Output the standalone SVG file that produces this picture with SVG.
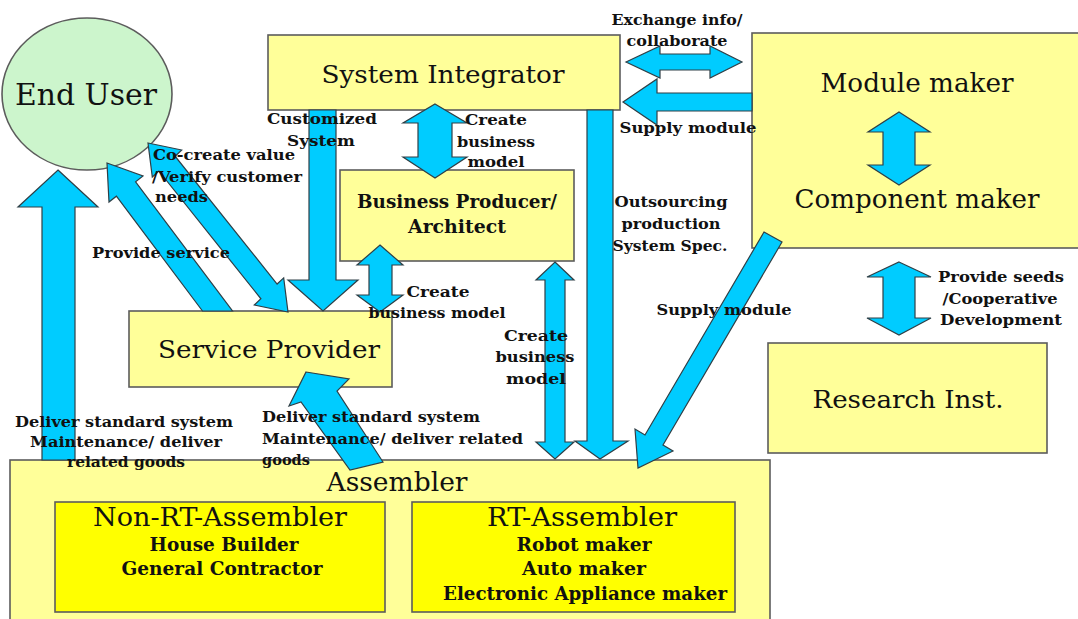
<svg xmlns="http://www.w3.org/2000/svg" width="1078" height="619" viewBox="0 0 1078 619">
<style>
.box{fill:#ffff99;stroke:#5c5c5c;stroke-width:1.6}
.ybox{fill:#ffff00;stroke:#5c5c5c;stroke-width:1.6}
.ell{fill:#ccf5cc;stroke:#5c5c5c;stroke-width:1.6}
.arr{fill:#00ccff;stroke:#2f3f46;stroke-width:1.2;stroke-linejoin:miter}
.t{font-family:"DejaVu Serif","Liberation Serif",serif;fill:#111;text-anchor:middle}
.tb{font-family:"DejaVu Serif","Liberation Serif",serif;font-weight:bold;fill:#111;text-anchor:middle}
.lb{font-family:"DejaVu Serif","Liberation Serif",serif;font-weight:bold;fill:#111;font-size:14px;text-anchor:middle}
.ls{text-anchor:start}
</style>
<rect width="1078" height="619" fill="#ffffff"/>

<g id="end-user">
<ellipse class="ell" cx="87" cy="94" rx="85" ry="76"/>
<text class="t" x="86" y="105" font-size="30" textLength="142" lengthAdjust="spacingAndGlyphs">End User</text>
</g>

<g id="system-integrator">
<rect class="box" x="268" y="35" width="352" height="75"/>
<text class="t" x="443" y="83" font-size="25" textLength="243" lengthAdjust="spacingAndGlyphs">System Integrator</text>
</g>

<g id="module-component-maker">
<rect class="box" x="752" y="33" width="340" height="215"/>
<text class="t" x="917" y="92" font-size="26" textLength="193" lengthAdjust="spacingAndGlyphs">Module maker</text>
<text class="t" x="917" y="208" font-size="26" textLength="245" lengthAdjust="spacingAndGlyphs">Component maker</text>
</g>

<g id="business-producer">
<rect class="box" x="340" y="170" width="234" height="91"/>
<text class="tb" x="457" y="208" font-size="18" textLength="200" lengthAdjust="spacingAndGlyphs">Business Producer/</text>
<text class="tb" x="457" y="233" font-size="18" textLength="98" lengthAdjust="spacingAndGlyphs">Architect</text>
</g>

<g id="service-provider">
<rect class="box" x="129" y="311" width="263" height="76"/>
<text class="t" x="269" y="358" font-size="25" textLength="222" lengthAdjust="spacingAndGlyphs">Service Provider</text>
</g>

<g id="research-inst">
<rect class="box" x="768" y="343" width="279" height="110"/>
<text class="t" x="908" y="408" font-size="25" textLength="191" lengthAdjust="spacingAndGlyphs">Research Inst.</text>
</g>

<g id="assembler">
<rect class="box" x="10" y="460" width="760" height="170"/>
<text class="t" x="397" y="491" font-size="26" textLength="141" lengthAdjust="spacingAndGlyphs">Assembler</text>
</g>

<g id="non-rt-assembler">
<rect class="ybox" x="55" y="502" width="330" height="110"/>
<text class="t" x="220" y="526" font-size="26" textLength="254" lengthAdjust="spacingAndGlyphs">Non-RT-Assembler</text>
<text class="tb" x="224" y="551" font-size="18" textLength="149" lengthAdjust="spacingAndGlyphs">House Builder</text>
<text class="tb" x="222" y="575" font-size="18" textLength="201" lengthAdjust="spacingAndGlyphs">General Contractor</text>
</g>

<g id="rt-assembler">
<rect class="ybox" x="412" y="502" width="323" height="110"/>
<text class="t" x="582" y="526" font-size="26" textLength="190" lengthAdjust="spacingAndGlyphs">RT-Assembler</text>
<text class="tb" x="584" y="551" font-size="18" textLength="135" lengthAdjust="spacingAndGlyphs">Robot maker</text>
<text class="tb" x="584" y="575" font-size="18" textLength="124" lengthAdjust="spacingAndGlyphs">Auto maker</text>
<text class="tb" x="585" y="600" font-size="18" textLength="284" lengthAdjust="spacingAndGlyphs">Electronic Appliance maker</text>
</g>

<g id="connectors">
<polygon class="arr" points="58,170 98,207 75,207 75,460 42,460 42,207 18,207"/>
<polygon class="arr" points="309,110 336,110 336,280 358,280 323,311 288,280 309,280"/>
<polygon class="arr" points="435,104 467,123 452,123 452,157 467,157 435,178 403,157 418,157 418,123 403,123"/>
<polygon class="arr" points="380,245 403,265 392,265 392,295 403,295 380,312 357,295 369,295 369,265 357,265"/>
<polygon class="arr" points="555,262 574,280 565,280 565,442 574,442 555,459 536,442 545,442 545,280 536,280"/>
<polygon class="arr" points="587,110 613,110 613,441 628,441 600,459 575,441 587,441"/>
<polygon class="arr" points="764,232 782,242 663,445 673,451 638,468 635,429 645,435"/>
<polygon class="arr" points="626,62 660,46 660,54 710,54 710,46 742,62 710,78 710,70 660,70 660,78"/>
<polygon class="arr" points="623,102 657,79 657,93 752,93 752,111 657,111 657,125"/>
<polygon class="arr" points="899,112 930,132 915,132 915,165 930,165 899,185 868,165 883,165 883,132 868,132"/>
<polygon class="arr" points="899,262 931,277 915,277 915,318 931,318 899,335 867,318 883,318 883,277 867,277"/>
<polygon class="arr" points="107,163 143,176 135.6,181.8 232.5,311 202.5,311 116.4,196.2 109,202"/>
<polygon class="arr" points="148,143 181.7,150 175.1,156.2 277.1,284 283.7,277.9 288,312 254.3,305 260.9,298.8 158.9,171 152.3,177"/>
<polygon class="arr" points="306,372 349,379 337,391 383,462 350,470 301,402 289,406"/>

<text class="lb" x="677" y="25" textLength="131" lengthAdjust="spacingAndGlyphs">Exchange info/</text>
<text class="lb" x="677" y="46" textLength="101" lengthAdjust="spacingAndGlyphs">collaborate</text>
<text class="lb" x="688" y="133" textLength="137" lengthAdjust="spacingAndGlyphs">Supply module</text>
<text class="lb" x="322" y="124" textLength="110" lengthAdjust="spacingAndGlyphs">Customized</text>
<text class="lb" x="321" y="146" textLength="68" lengthAdjust="spacingAndGlyphs">System</text>
<text class="lb" x="496" y="125" textLength="62" lengthAdjust="spacingAndGlyphs">Create</text>
<text class="lb" x="496" y="147" textLength="78" lengthAdjust="spacingAndGlyphs">business</text>
<text class="lb" x="496" y="167" textLength="57" lengthAdjust="spacingAndGlyphs">model</text>
<text class="lb ls" x="153" y="160" textLength="142" lengthAdjust="spacingAndGlyphs">Co-create value</text>
<text class="lb ls" x="152" y="182" textLength="150" lengthAdjust="spacingAndGlyphs">/Verify customer</text>
<text class="lb ls" x="155" y="202" textLength="53" lengthAdjust="spacingAndGlyphs">needs</text>
<text class="lb" x="161" y="258" textLength="138" lengthAdjust="spacingAndGlyphs">Provide service</text>
<text class="lb" x="438" y="297" textLength="63" lengthAdjust="spacingAndGlyphs">Create</text>
<text class="lb" x="437" y="318" textLength="137" lengthAdjust="spacingAndGlyphs">business model</text>
<text class="lb" x="536" y="341" textLength="64" lengthAdjust="spacingAndGlyphs">Create</text>
<text class="lb" x="535" y="362" textLength="79" lengthAdjust="spacingAndGlyphs">business</text>
<text class="lb" x="536" y="384" textLength="60" lengthAdjust="spacingAndGlyphs">model</text>
<text class="lb" x="671" y="207" textLength="113" lengthAdjust="spacingAndGlyphs">Outsourcing</text>
<text class="lb" x="671" y="229" textLength="99" lengthAdjust="spacingAndGlyphs">production</text>
<text class="lb" x="670" y="251" textLength="115" lengthAdjust="spacingAndGlyphs">System Spec.</text>
<text class="lb" x="724" y="315" textLength="135" lengthAdjust="spacingAndGlyphs">Supply module</text>
<text class="lb" x="1001" y="282" textLength="126" lengthAdjust="spacingAndGlyphs">Provide seeds</text>
<text class="lb" x="1000" y="304" textLength="115" lengthAdjust="spacingAndGlyphs">/Cooperative</text>
<text class="lb" x="1001" y="325" textLength="122" lengthAdjust="spacingAndGlyphs">Development</text>
<text class="lb" x="124" y="427" textLength="218" lengthAdjust="spacingAndGlyphs">Deliver standard system</text>
<text class="lb" x="126" y="447" textLength="192" lengthAdjust="spacingAndGlyphs">Maintenance/ deliver</text>
<text class="lb" x="126" y="467" textLength="118" lengthAdjust="spacingAndGlyphs">related goods</text>
<text class="lb ls" x="262" y="422" textLength="218" lengthAdjust="spacingAndGlyphs">Deliver standard system</text>
<text class="lb ls" x="262" y="444" textLength="261" lengthAdjust="spacingAndGlyphs">Maintenance/ deliver related</text>
<text class="lb ls" x="262" y="465" textLength="48" lengthAdjust="spacingAndGlyphs">goods</text>
</g>
</svg>
